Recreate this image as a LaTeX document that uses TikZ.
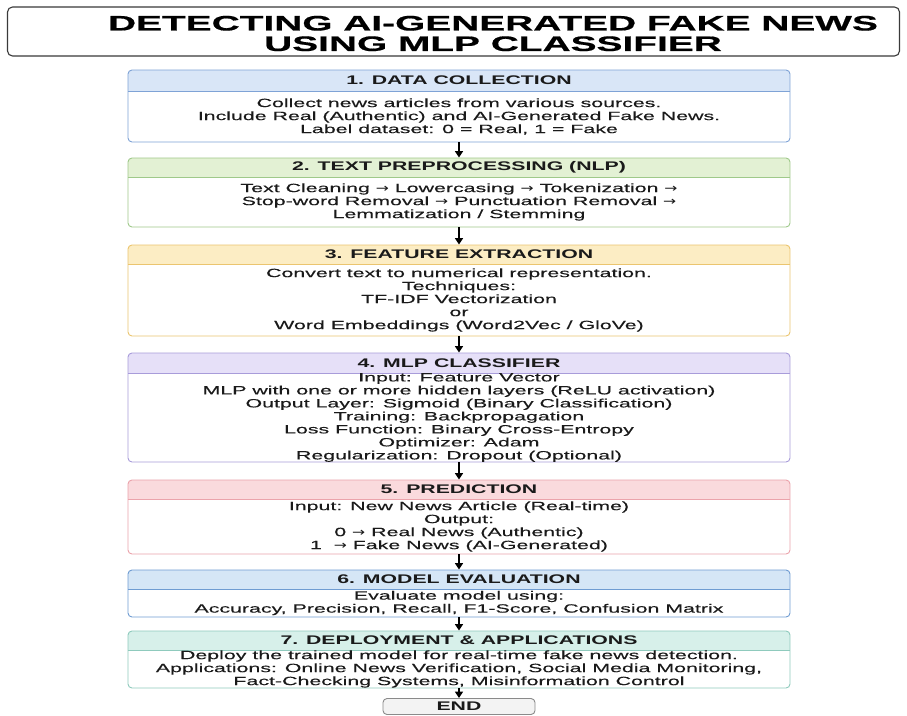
\documentclass[tikz,border=0pt]{standalone}
\usepackage{fontspec}
\setmainfont{Liberation Sans}
\newfontfamily\bodyfont{Liberation Sans}[FakeStretch=1.78,FakeBold=0.25]
\newfontfamily\hdrfont{Liberation Sans}[FakeStretch=1.7]
\newfontfamily\titlefont{Liberation Sans}[FakeStretch=1.85,FakeBold=0.6]
\newfontfamily\symfont{DejaVu Sans}[FakeStretch=1.3]
\usetikzlibrary{arrows.meta}

\newcommand\ar{{\symfont →}}
\newcommand\bs[1]{\fontsize{12}{#1}\selectfont}

\definecolor{c1f}{HTML}{D9E6F7}\definecolor{c1d}{HTML}{7FA3D6}
\definecolor{c2f}{HTML}{E3F1D4}\definecolor{c2d}{HTML}{9FC98A}
\definecolor{c3f}{HTML}{FCEDC4}\definecolor{c3d}{HTML}{EBC56F}
\definecolor{c4f}{HTML}{E6E0F8}\definecolor{c4d}{HTML}{A89CDA}
\definecolor{c5f}{HTML}{FADADD}\definecolor{c5d}{HTML}{EBA3AB}
\definecolor{c6f}{HTML}{D5E6F6}\definecolor{c6d}{HTML}{6F9CD2}
\definecolor{c7f}{HTML}{D7F0EA}\definecolor{c7d}{HTML}{8FCABD}
\definecolor{endf}{HTML}{F3F3F3}\definecolor{endd}{HTML}{8A8A8A}
\definecolor{titled}{HTML}{3A3A3A}
\definecolor{txt}{HTML}{1A1A1A}

\tikzset{
  frame/.style={draw=#1, line width=0.9pt, rounded corners=4pt, minimum width=662pt, inner sep=0pt},
  hdrtxt/.style={font=\hdrfont\bfseries\fontsize{12.5}{14}\selectfont, text=txt, inner sep=0pt},
  bodytxt/.style={font=\bodyfont\fontsize{12}{13}\selectfont, text=txt, align=center, inner sep=0pt},
  arr/.style={-{Triangle[length=6.5pt,width=8pt]}, line width=1.7pt, black},
}

\newcommand\stepblock[8]{%
  \begin{scope}
    \clip[rounded corners=4pt] (128,#4) rectangle (790,#6);
    \fill[#2] (128,#4) rectangle (790,#5);
  \end{scope}
  \draw[#3, line width=0.9pt] (128,#5) -- (790,#5);
  \node[frame=#3, minimum height={(#6-#4)*1pt}] (#1) at (459,{(#4+#6)/2}) {};
  \node[hdrtxt] (#1h) at (459,{(#4+#5)/2}) {#7};
  \node[bodytxt] (#1b) at (459,{(#5+#6)/2}) {#8};
}

\begin{document}
\begin{tikzpicture}[x=1pt,y=-1pt]
\fill[white] (0,0) rectangle (907,715);
\useasboundingbox (0,0) rectangle (907,715);

\node[draw=titled, line width=1.1pt, rounded corners=5pt, minimum width=892pt, minimum height=49pt,
      inner sep=0pt] (title) at (453.5,31.5) {};
\node[align=center, inner sep=0pt, text=black,
      font=\titlefont\bfseries\fontsize{21}{20.5}\selectfont] (titletext) at (493,33.5)
      {DETECTING AI-GENERATED FAKE NEWS\\USING MLP CLASSIFIER};

\stepblock{s1}{c1f}{c1d}{70}{91}{142}{1. DATA COLLECTION}
  {\bs{14.5}Collect news articles from various sources.\\Include Real (Authentic) and AI-Generated Fake News.\\Label dataset: 0 = Real, 1 = Fake}
\stepblock{s2}{c2f}{c2d}{158}{177}{227}{2. TEXT PREPROCESSING (NLP)}
  {\bs{13.5}Text Cleaning \ar{} Lowercasing \ar{} Tokenization \ar\\Stop-word Removal \ar{} Punctuation Removal \ar\\Lemmatization / Stemming}
\stepblock{s3}{c3f}{c3d}{245}{264}{336}{3. FEATURE EXTRACTION}
  {\bs{12.8}Convert text to numerical representation.\\Techniques:\\TF-IDF Vectorization\\or\\Word Embeddings (Word2Vec / GloVe)}
\stepblock{s4}{c4f}{c4d}{353}{373}{462}{4. MLP CLASSIFIER}
  {\bs{11.6}Input: Feature Vector\\MLP with one or more hidden layers (ReLU activation)\\Output Layer: Sigmoid (Binary Classification)\\Training: Backpropagation\\Loss Function: Binary Cross-Entropy\\Optimizer: Adam\\Regularization: Dropout (Optional)}
\stepblock{s5}{c5f}{c5d}{480}{499}{554}{5. PREDICTION}
  {\bs{13.3}Input: New News Article (Real-time)\\Output:\\0 \ar{} Real News (Authentic)\\1 \ \ar{} Fake News (AI-Generated)}
\stepblock{s6}{c6f}{c6d}{570}{589}{617}{6. MODEL EVALUATION}
  {\bs{12}Evaluate model using:\\Accuracy, Precision, Recall, F1-Score, Confusion Matrix}
\stepblock{s7}{c7f}{c7d}{631}{650}{688}{7. DEPLOYMENT \& APPLICATIONS}
  {\bs{11.6}Deploy the trained model for real-time fake news detection.\\Applications: Online News Verification, Social Media Monitoring,\\Fact-Checking Systems, Misinformation Control}

\node[draw=endd, fill=endf, line width=0.9pt, rounded corners=4pt, minimum width=152pt, minimum height=16pt,
      inner sep=0pt, text=txt, font=\hdrfont\bfseries\fontsize{12.5}{14}\selectfont] (end) at (459,706.5) {END};

\draw[arr] (s1) -- (s2);
\draw[arr] (s2) -- (s3);
\draw[arr] (s3) -- (s4);
\draw[arr] (s4) -- (s5);
\draw[arr] (s5) -- (s6);
\draw[arr] (s6) -- (s7);
\draw[arr] (s7) -- (end);
\end{tikzpicture}
\end{document}
